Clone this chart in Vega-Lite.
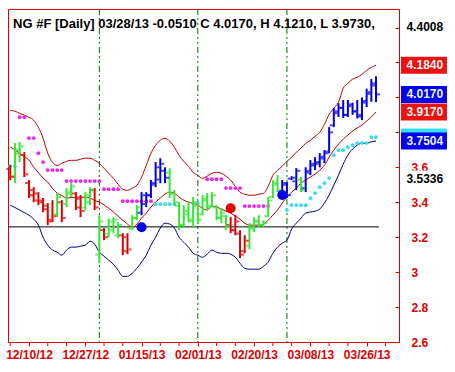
{
  "$schema": "https://vega.github.io/schema/vega-lite/v6.json",
  "width": 391,
  "height": 333,
  "autosize": {"type": "none"},
  "padding": {"left": 8, "top": 9, "right": 56, "bottom": 30},
  "background": "white",
  "config": {
    "font": "Liberation Sans",
    "view": {"stroke": "#dd0000", "strokeWidth": 1},
    "axis": {"grid": false, "labelOverlap": false}
  },
  "datasets": {
    "bars": [
      {"i":-4,"o":3.59,"h":3.612,"l":3.526,"c":3.545,"t":"dn"},
      {"i":-3,"o":3.55,"h":3.739,"l":3.509,"c":3.70,"t":"nt"},
      {"i":-2,"o":3.68,"h":3.745,"l":3.63,"c":3.72,"t":"nt"},
      {"i":-1,"o":3.67,"h":3.687,"l":3.544,"c":3.56,"t":"dn"},
      {"i":0,"o":3.51,"h":3.527,"l":3.424,"c":3.44,"t":"dn"},
      {"i":1,"o":3.47,"h":3.486,"l":3.40,"c":3.41,"t":"dn"},
      {"i":2,"o":3.45,"h":3.458,"l":3.383,"c":3.40,"t":"dn"},
      {"i":3,"o":3.41,"h":3.424,"l":3.343,"c":3.36,"t":"dn"},
      {"i":4,"o":3.38,"h":3.395,"l":3.269,"c":3.29,"t":"dn"},
      {"i":5,"o":3.30,"h":3.412,"l":3.286,"c":3.32,"t":"dn"},
      {"i":6,"o":3.33,"h":3.452,"l":3.315,"c":3.43,"t":"nt"},
      {"i":7,"o":3.40,"h":3.412,"l":3.286,"c":3.31,"t":"dn"},
      {"i":8,"o":3.39,"h":3.481,"l":3.372,"c":3.46,"t":"nt"},
      {"i":9,"o":3.45,"h":3.509,"l":3.429,"c":3.49,"t":"nt"},
      {"i":10,"o":3.45,"h":3.458,"l":3.355,"c":3.37,"t":"dn"},
      {"i":11,"o":3.42,"h":3.441,"l":3.315,"c":3.35,"t":"dn"},
      {"i":12,"o":3.37,"h":3.458,"l":3.355,"c":3.44,"t":"nt"},
      {"i":13,"o":3.40,"h":3.486,"l":3.383,"c":3.47,"t":"nt"},
      {"i":14,"o":3.47,"h":3.481,"l":3.355,"c":3.37,"t":"dn"},
      {"i":15,"o":3.10,"h":3.326,"l":3.051,"c":3.29,"t":"nt"},
      {"i":16,"o":3.24,"h":3.252,"l":3.183,"c":3.20,"t":"dn"},
      {"i":17,"o":3.22,"h":3.308,"l":3.20,"c":3.29,"t":"nt"},
      {"i":18,"o":3.24,"h":3.315,"l":3.223,"c":3.30,"t":"nt"},
      {"i":19,"o":3.21,"h":3.286,"l":3.194,"c":3.27,"t":"nt"},
      {"i":20,"o":3.21,"h":3.223,"l":3.097,"c":3.12,"t":"dn"},
      {"i":21,"o":3.20,"h":3.223,"l":3.103,"c":3.13,"t":"dn"},
      {"i":22,"o":3.25,"h":3.326,"l":3.24,"c":3.31,"t":"nt"},
      {"i":23,"o":3.31,"h":3.383,"l":3.297,"c":3.37,"t":"nt"},
      {"i":24,"o":3.34,"h":3.458,"l":3.326,"c":3.44,"t":"up"},
      {"i":25,"o":3.39,"h":3.458,"l":3.372,"c":3.44,"t":"up"},
      {"i":26,"o":3.44,"h":3.527,"l":3.424,"c":3.51,"t":"up"},
      {"i":27,"o":3.50,"h":3.63,"l":3.486,"c":3.60,"t":"up"},
      {"i":28,"o":3.53,"h":3.652,"l":3.509,"c":3.62,"t":"up"},
      {"i":29,"o":3.58,"h":3.60,"l":3.509,"c":3.54,"t":"up"},
      {"i":30,"o":3.57,"h":3.595,"l":3.424,"c":3.45,"t":"nt"},
      {"i":31,"o":3.45,"h":3.47,"l":3.383,"c":3.40,"t":"nt"},
      {"i":32,"o":3.38,"h":3.40,"l":3.24,"c":3.27,"t":"nt"},
      {"i":33,"o":3.27,"h":3.383,"l":3.252,"c":3.35,"t":"nt"},
      {"i":34,"o":3.33,"h":3.40,"l":3.286,"c":3.30,"t":"nt"},
      {"i":35,"o":3.29,"h":3.43,"l":3.257,"c":3.40,"t":"nt"},
      {"i":36,"o":3.38,"h":3.395,"l":3.28,"c":3.30,"t":"nt"},
      {"i":37,"o":3.33,"h":3.441,"l":3.326,"c":3.42,"t":"nt"},
      {"i":38,"o":3.41,"h":3.452,"l":3.355,"c":3.37,"t":"nt"},
      {"i":39,"o":3.38,"h":3.458,"l":3.372,"c":3.44,"t":"nt"},
      {"i":40,"o":3.37,"h":3.383,"l":3.297,"c":3.31,"t":"nt"},
      {"i":41,"o":3.31,"h":3.366,"l":3.28,"c":3.34,"t":"nt"},
      {"i":42,"o":3.32,"h":3.326,"l":3.24,"c":3.26,"t":"nt"},
      {"i":43,"o":3.27,"h":3.315,"l":3.223,"c":3.24,"t":"dn"},
      {"i":44,"o":3.24,"h":3.326,"l":3.211,"c":3.29,"t":"dn"},
      {"i":45,"o":3.22,"h":3.24,"l":3.08,"c":3.10,"t":"dn"},
      {"i":46,"o":3.12,"h":3.211,"l":3.108,"c":3.18,"t":"dn"},
      {"i":47,"o":3.15,"h":3.28,"l":3.13,"c":3.26,"t":"nt"},
      {"i":48,"o":3.25,"h":3.315,"l":3.229,"c":3.29,"t":"nt"},
      {"i":49,"o":3.29,"h":3.326,"l":3.257,"c":3.27,"t":"nt"},
      {"i":50,"o":3.27,"h":3.297,"l":3.257,"c":3.28,"t":"nt"},
      {"i":51,"o":3.32,"h":3.43,"l":3.315,"c":3.41,"t":"nt"},
      {"i":52,"o":3.43,"h":3.527,"l":3.424,"c":3.51,"t":"nt"},
      {"i":53,"o":3.50,"h":3.555,"l":3.458,"c":3.47,"t":"nt"},
      {"i":54,"o":3.46,"h":3.527,"l":3.429,"c":3.51,"t":"up"},
      {"i":55,"o":3.50,"h":3.515,"l":3.424,"c":3.44,"t":"up"},
      {"i":56,"o":3.535,"h":3.549,"l":3.527,"c":3.54,"t":"up"},
      {"i":57,"o":3.52,"h":3.595,"l":3.469,"c":3.58,"t":"up"},
      {"i":58,"o":3.53,"h":3.544,"l":3.458,"c":3.47,"t":"nt"},
      {"i":59,"o":3.48,"h":3.60,"l":3.458,"c":3.58,"t":"up"},
      {"i":60,"o":3.57,"h":3.641,"l":3.555,"c":3.62,"t":"up"},
      {"i":61,"o":3.61,"h":3.658,"l":3.584,"c":3.63,"t":"up"},
      {"i":62,"o":3.62,"h":3.681,"l":3.60,"c":3.66,"t":"up"},
      {"i":63,"o":3.65,"h":3.698,"l":3.624,"c":3.68,"t":"up"},
      {"i":64,"o":3.69,"h":3.83,"l":3.681,"c":3.80,"t":"up"},
      {"i":65,"o":3.84,"h":3.94,"l":3.83,"c":3.92,"t":"up"},
      {"i":66,"o":3.91,"h":3.967,"l":3.888,"c":3.94,"t":"up"},
      {"i":67,"o":3.94,"h":3.985,"l":3.882,"c":3.90,"t":"up"},
      {"i":68,"o":3.90,"h":3.985,"l":3.888,"c":3.96,"t":"up"},
      {"i":69,"o":3.95,"h":3.97,"l":3.90,"c":3.92,"t":"up"},
      {"i":70,"o":3.92,"h":3.985,"l":3.88,"c":3.90,"t":"up"},
      {"i":71,"o":3.89,"h":4.0,"l":3.87,"c":3.98,"t":"up"},
      {"i":72,"o":3.97,"h":4.05,"l":3.945,"c":4.03,"t":"up"},
      {"i":73,"o":4.02,"h":4.105,"l":3.975,"c":4.068,"t":"up"},
      {"i":74,"o":4.08,"h":4.121,"l":3.973,"c":4.017,"t":"up"}
    ],
    "ind": [
      {"i":-4,"up":3.926,"mid":3.716,"lo":3.383},
      {"i":-3,"up":3.921,"mid":3.70,"lo":3.37},
      {"i":-2,"up":3.909,"mid":3.681,"lo":3.355},
      {"i":-1,"up":3.898,"mid":3.66,"lo":3.34},
      {"i":0,"up":3.886,"mid":3.641,"lo":3.326},
      {"i":1,"up":3.869,"mid":3.601,"lo":3.303},
      {"i":2,"up":3.829,"mid":3.57,"lo":3.269},
      {"i":3,"up":3.766,"mid":3.538,"lo":3.2},
      {"i":4,"up":3.680,"mid":3.515,"lo":3.154},
      {"i":5,"up":3.629,"mid":3.48,"lo":3.126},
      {"i":6,"up":3.611,"mid":3.452,"lo":3.114},
      {"i":7,"up":3.623,"mid":3.438,"lo":3.097},
      {"i":8,"up":3.634,"mid":3.424,"lo":3.126},
      {"i":9,"up":3.640,"mid":3.427,"lo":3.143},
      {"i":10,"up":3.640,"mid":3.429,"lo":3.143},
      {"i":11,"up":3.646,"mid":3.429,"lo":3.149},
      {"i":12,"up":3.652,"mid":3.429,"lo":3.154},
      {"i":13,"up":3.652,"mid":3.424,"lo":3.177},
      {"i":14,"up":3.640,"mid":3.41,"lo":3.16},
      {"i":15,"up":3.623,"mid":3.401,"lo":3.114},
      {"i":16,"up":3.594,"mid":3.385,"lo":3.091},
      {"i":17,"up":3.566,"mid":3.366,"lo":3.068},
      {"i":18,"up":3.537,"mid":3.344,"lo":3.045},
      {"i":19,"up":3.503,"mid":3.32,"lo":3.011},
      {"i":20,"up":3.474,"mid":3.297,"lo":2.976},
      {"i":21,"up":3.468,"mid":3.275,"lo":2.976},
      {"i":22,"up":3.480,"mid":3.257,"lo":2.993},
      {"i":23,"up":3.497,"mid":3.275,"lo":3.022},
      {"i":24,"up":3.543,"mid":3.309,"lo":3.057},
      {"i":25,"up":3.611,"mid":3.338,"lo":3.097},
      {"i":26,"up":3.680,"mid":3.372,"lo":3.154},
      {"i":27,"up":3.726,"mid":3.401,"lo":3.2},
      {"i":28,"up":3.755,"mid":3.424,"lo":3.252},
      {"i":29,"up":3.766,"mid":3.446,"lo":3.28},
      {"i":30,"up":3.749,"mid":3.458,"lo":3.275},
      {"i":31,"up":3.715,"mid":3.452,"lo":3.252},
      {"i":32,"up":3.669,"mid":3.429,"lo":3.20},
      {"i":33,"up":3.634,"mid":3.412,"lo":3.171},
      {"i":34,"up":3.606,"mid":3.401,"lo":3.143},
      {"i":35,"up":3.571,"mid":3.395,"lo":3.108},
      {"i":36,"up":3.554,"mid":3.383,"lo":3.097},
      {"i":37,"up":3.537,"mid":3.366,"lo":3.085},
      {"i":38,"up":3.549,"mid":3.355,"lo":3.103},
      {"i":39,"up":3.566,"mid":3.378,"lo":3.126},
      {"i":40,"up":3.571,"mid":3.372,"lo":3.114},
      {"i":41,"up":3.566,"mid":3.361,"lo":3.108},
      {"i":42,"up":3.549,"mid":3.349,"lo":3.108},
      {"i":43,"up":3.526,"mid":3.338,"lo":3.103},
      {"i":44,"up":3.491,"mid":3.321,"lo":3.085},
      {"i":45,"up":3.457,"mid":3.303,"lo":3.051},
      {"i":46,"up":3.446,"mid":3.28,"lo":3.022},
      {"i":47,"up":3.440,"mid":3.269,"lo":3.017},
      {"i":48,"up":3.440,"mid":3.269,"lo":3.017},
      {"i":49,"up":3.446,"mid":3.269,"lo":3.017},
      {"i":50,"up":3.451,"mid":3.275,"lo":3.034},
      {"i":51,"up":3.491,"mid":3.297,"lo":3.057},
      {"i":52,"up":3.554,"mid":3.326,"lo":3.108},
      {"i":53,"up":3.583,"mid":3.355,"lo":3.143},
      {"i":54,"up":3.606,"mid":3.395,"lo":3.166},
      {"i":55,"up":3.634,"mid":3.429,"lo":3.183},
      {"i":56,"up":3.657,"mid":3.458,"lo":3.246},
      {"i":57,"up":3.686,"mid":3.481,"lo":3.28},
      {"i":58,"up":3.709,"mid":3.509,"lo":3.309},
      {"i":59,"up":3.737,"mid":3.527,"lo":3.338},
      {"i":60,"up":3.755,"mid":3.544,"lo":3.344},
      {"i":61,"up":3.777,"mid":3.561,"lo":3.349},
      {"i":62,"up":3.800,"mid":3.584,"lo":3.361},
      {"i":63,"up":3.846,"mid":3.612,"lo":3.395},
      {"i":64,"up":3.903,"mid":3.658,"lo":3.441},
      {"i":65,"up":3.938,"mid":3.698,"lo":3.498},
      {"i":66,"up":3.972,"mid":3.733,"lo":3.555},
      {"i":67,"up":4.052,"mid":3.761,"lo":3.618},
      {"i":68,"up":4.081,"mid":3.784,"lo":3.67},
      {"i":69,"up":4.104,"mid":3.807,"lo":3.704},
      {"i":70,"up":4.115,"mid":3.825,"lo":3.727},
      {"i":71,"up":4.132,"mid":3.842,"lo":3.738},
      {"i":72,"up":4.155,"mid":3.865,"lo":3.738},
      {"i":73,"up":4.172,"mid":3.888,"lo":3.746},
      {"i":74,"up":4.184,"mid":3.917,"lo":3.7504}
    ],
    "dots": [
      {"i":-4,"v":3.606,"s":"cy"},{"i":-3,"v":3.606,"s":"cy"},
      {"i":-2,"v":3.887,"s":"mg"},{"i":-1,"v":3.887,"s":"mg"},
      {"i":0,"v":3.767,"s":"mg"},{"i":1,"v":3.767,"s":"mg"},
      {"i":2,"v":3.681,"s":"mg"},{"i":3,"v":3.63,"s":"mg"},
      {"i":4,"v":3.584,"s":"mg"},{"i":5,"v":3.584,"s":"mg"},{"i":6,"v":3.584,"s":"mg"},{"i":7,"v":3.584,"s":"mg"},
      {"i":8,"v":3.521,"s":"mg"},{"i":9,"v":3.521,"s":"mg"},{"i":10,"v":3.521,"s":"mg"},{"i":11,"v":3.521,"s":"mg"},
      {"i":12,"v":3.521,"s":"mg"},{"i":13,"v":3.521,"s":"mg"},{"i":14,"v":3.521,"s":"mg"},{"i":15,"v":3.521,"s":"mg"},
      {"i":16,"v":3.475,"s":"mg"},{"i":17,"v":3.475,"s":"mg"},{"i":18,"v":3.475,"s":"mg"},{"i":19,"v":3.475,"s":"mg"},
      {"i":20,"v":3.406,"s":"mg"},{"i":21,"v":3.406,"s":"mg"},{"i":22,"v":3.406,"s":"mg"},{"i":23,"v":3.406,"s":"mg"},
      {"i":24,"v":3.406,"s":"mg"},{"i":25,"v":3.406,"s":"mg"},{"i":26,"v":3.406,"s":"mg"},
      {"i":27,"v":3.389,"s":"cy"},{"i":28,"v":3.389,"s":"cy"},{"i":29,"v":3.389,"s":"cy"},{"i":30,"v":3.389,"s":"cy"},{"i":31,"v":3.389,"s":"cy"},
      {"i":35,"v":3.395,"s":"cy"},{"i":36,"v":3.395,"s":"cy"},
      {"i":38,"v":3.532,"s":"mg"},{"i":39,"v":3.532,"s":"mg"},{"i":40,"v":3.532,"s":"mg"},{"i":41,"v":3.532,"s":"mg"},
      {"i":42,"v":3.481,"s":"mg"},{"i":43,"v":3.481,"s":"mg"},{"i":44,"v":3.481,"s":"mg"},{"i":45,"v":3.481,"s":"mg"},
      {"i":46,"v":3.378,"s":"mg"},{"i":47,"v":3.378,"s":"mg"},{"i":48,"v":3.378,"s":"mg"},{"i":49,"v":3.378,"s":"mg"},{"i":50,"v":3.378,"s":"mg"},{"i":51,"v":3.378,"s":"mg"},
      {"i":55,"v":3.355,"s":"cy"},
      {"i":56,"v":3.383,"s":"cy"},{"i":57,"v":3.383,"s":"cy"},{"i":58,"v":3.383,"s":"cy"},{"i":59,"v":3.383,"s":"cy"},
      {"i":60,"v":3.423,"s":"cy"},{"i":61,"v":3.452,"s":"cy"},{"i":62,"v":3.486,"s":"cy"},{"i":63,"v":3.509,"s":"cy"},
      {"i":64,"v":3.538,"s":"cy"},{"i":65,"v":3.669,"s":"cy"},{"i":66,"v":3.698,"s":"cy"},{"i":67,"v":3.698,"s":"cy"},
      {"i":68,"v":3.716,"s":"cy"},{"i":69,"v":3.727,"s":"cy"},{"i":70,"v":3.739,"s":"cy"},{"i":71,"v":3.739,"s":"cy"},
      {"i":72,"v":3.739,"s":"cy"},{"i":73,"v":3.773,"s":"cy"},{"i":74,"v":3.773,"s":"cy"}
    ],
    "sig": [
      {"i":24,"v":3.257,"s":"up"},
      {"i":43,"v":3.366,"s":"dn"},
      {"i":54,"v":3.441,"s":"up"}
    ],
    "vl": [{"i":15},{"i":36},{"i":55}],
    "minor": [{"i":-4},{"i":4},{"i":8},{"i":16},{"i":20},{"i":28},{"i":32},{"i":40},{"i":44},{"i":52},{"i":56},{"i":64},{"i":68},{"i":76}],
    "hl": [{"a":-4.48,"b":74.6,"v":3.259}],
    "lbl": [
      {"v":3.773,"txt":"","k":"cbox"},
      {"v":4.4008,"txt":"4.4008","k":"wbox"},
      {"v":4.184,"txt":"4.1840","k":"rbox"},
      {"v":4.017,"txt":"4.0170","k":"bbox"},
      {"v":3.917,"txt":"3.9170","k":"rbox"},
      {"v":3.7504,"txt":"3.7504","k":"bbox"},
      {"v":3.5336,"txt":"3.5336","k":"wbox"}
    ]
  },
  "layer": [
    {
      "data": {"name": "vl"},
      "mark": {"type": "rule", "color": "#007000", "strokeWidth": 1, "strokeDash": [6, 3, 2, 3, 2, 3]},
      "encoding": {
        "x": {"field": "i", "type": "quantitative",
          "scale": {"domain": [-4.48, 78.9], "nice": false, "zero": false},
          "axis": {
            "orient": "bottom",
            "values": [0,12,24,36,48,60,72],
            "tickCount": 100,
            "labelExpr": "datum.value==0?'12/10/12':datum.value==12?'12/27/12':datum.value==24?'01/15/13':datum.value==36?'02/01/13':datum.value==48?'02/20/13':datum.value==60?'03/08/13':datum.value==72?'03/26/13':''",
            "title": null,
            "domainColor": "#dd0000",
            "tickColor": "#dd0000",
            "tickSize": 4,
            "labelColor": "#dd0000",
            "labelFont": "Liberation Sans",
            "labelFontSize": 12,
            "labelFontWeight": "bold",
            "labelPadding": 3,
            "labelOverlap": false,
            "labelFlush": false
          }
        }
      }
    },
    {
      "data": {"name": "minor"},
      "mark": {"type": "rule", "color": "#dd0000", "strokeWidth": 1},
      "encoding": {
        "x": {"field": "i", "type": "quantitative"},
        "y": {"datum": 2.6, "type": "quantitative"},
        "y2": {"datum": 2.577}
      }
    },
    {
      "data": {"name": "hl"},
      "mark": {"type": "rule", "color": "black", "strokeWidth": 1},
      "encoding": {
        "x": {"field": "a", "type": "quantitative"},
        "x2": {"field": "b"},
        "y": {"field": "v", "type": "quantitative",
          "scale": {"domain": [2.6, 4.506], "nice": false, "zero": false},
          "axis": {
            "orient": "right",
            "values": [2.6,2.8,3.0,3.2,3.4,3.6,3.8,4.0,4.2,4.4],
            "tickCount": 100,
            "labelExpr": "datum.value > 3.7 ? '' : format(datum.value, '.1~f')",
            "title": null,
            "domainColor": "#dd0000",
            "tickColor": "#dd0000",
            "tickSize": -4,
            "labelColor": "#dd0000",
            "labelFont": "Liberation Sans",
            "labelFontSize": 12,
            "labelFontWeight": "bold",
            "labelPadding": 16,
            "labelOverlap": false,
            "labelFlush": false
          }
        }
      }
    },
    {
      "data": {"name": "ind"},
      "mark": {"type": "line", "color": "#c00000", "strokeWidth": 1, "interpolate": "monotone"},
      "encoding": {"x": {"field": "i", "type": "quantitative"}, "y": {"field": "up", "type": "quantitative"}}
    },
    {
      "data": {"name": "ind"},
      "mark": {"type": "line", "color": "#c00000", "strokeWidth": 1, "interpolate": "monotone"},
      "encoding": {"x": {"field": "i", "type": "quantitative"}, "y": {"field": "mid", "type": "quantitative"}}
    },
    {
      "data": {"name": "ind"},
      "mark": {"type": "line", "color": "#00008c", "strokeWidth": 1, "interpolate": "monotone"},
      "encoding": {"x": {"field": "i", "type": "quantitative"}, "y": {"field": "lo", "type": "quantitative"}}
    },
    {
      "data": {"name": "dots"},
      "mark": {"type": "point", "filled": true, "size": 14, "opacity": 1, "shape": "circle"},
      "encoding": {
        "x": {"field": "i", "type": "quantitative"},
        "y": {"field": "v", "type": "quantitative"},
        "color": {"field": "s", "type": "nominal", "legend": null,
          "scale": {"domain": ["dn","nt","up","mg","cy","rbox","bbox","wbox","cbox"],
                    "range": ["#e00000","#33e833","#0000e0","#ee22ee","#33ddee","#ee1111","#0000ee","#ffffff","#33e0f0"]}}
      }
    },
    {
      "data": {"name": "bars"},
      "mark": {"type": "rule", "strokeWidth": 2},
      "encoding": {
        "x": {"field": "i", "type": "quantitative"},
        "y": {"field": "l", "type": "quantitative"},
        "y2": {"field": "h"},
        "color": {"field": "t", "type": "nominal", "legend": null}
      }
    },
    {
      "data": {"name": "bars"},
      "mark": {"type": "tick", "orient": "horizontal", "size": 3, "thickness": 2, "xOffset": -2.5},
      "encoding": {
        "x": {"field": "i", "type": "quantitative"},
        "y": {"field": "o", "type": "quantitative"},
        "color": {"field": "t", "type": "nominal", "legend": null}
      }
    },
    {
      "data": {"name": "bars"},
      "mark": {"type": "tick", "orient": "horizontal", "size": 3, "thickness": 2, "xOffset": 2.5},
      "encoding": {
        "x": {"field": "i", "type": "quantitative"},
        "y": {"field": "c", "type": "quantitative"},
        "color": {"field": "t", "type": "nominal", "legend": null}
      }
    },
    {
      "data": {"name": "sig"},
      "mark": {"type": "point", "filled": true, "size": 100, "opacity": 1, "shape": "circle"},
      "encoding": {
        "x": {"field": "i", "type": "quantitative"},
        "y": {"field": "v", "type": "quantitative"},
        "color": {"field": "s", "type": "nominal", "legend": null}
      }
    },
    {
      "data": {"name": "lbl"},
      "mark": {"type": "point", "filled": true, "opacity": 1, "strokeWidth": 0, "size": 2116,
               "shape": "M-1,-0.37L1,-0.37L1,0.37L-1,0.37Z"},
      "encoding": {
        "x": {"datum": 84.22, "type": "quantitative"},
        "y": {"field": "v", "type": "quantitative"},
        "color": {"field": "k", "type": "nominal", "legend": null}
      }
    },
    {
      "data": {"name": "lbl"},
      "mark": {"type": "text", "align": "center", "baseline": "middle", "fontSize": 12, "fontWeight": "bold", "font": "Liberation Sans"},
      "encoding": {
        "x": {"datum": 84.4, "type": "quantitative"},
        "y": {"field": "v", "type": "quantitative"},
        "text": {"field": "txt"},
        "color": {"condition": {"test": "datum.k == 'wbox'", "value": "black"}, "value": "#e6f2f0"}
      }
    },
    {
      "data": {"values": [{"txt": "NG #F [Daily] 03/28/13 -0.0510 C 4.0170, H 4.1210, L 3.9730,"}]},
      "mark": {"type": "text", "align": "left", "baseline": "middle", "fontSize": 13, "fontWeight": "bold", "font": "Liberation Sans", "color": "black"},
      "encoding": {
        "x": {"datum": -3.4, "type": "quantitative"},
        "y": {"datum": 4.419, "type": "quantitative"},
        "text": {"field": "txt"}
      }
    }
  ]
}
